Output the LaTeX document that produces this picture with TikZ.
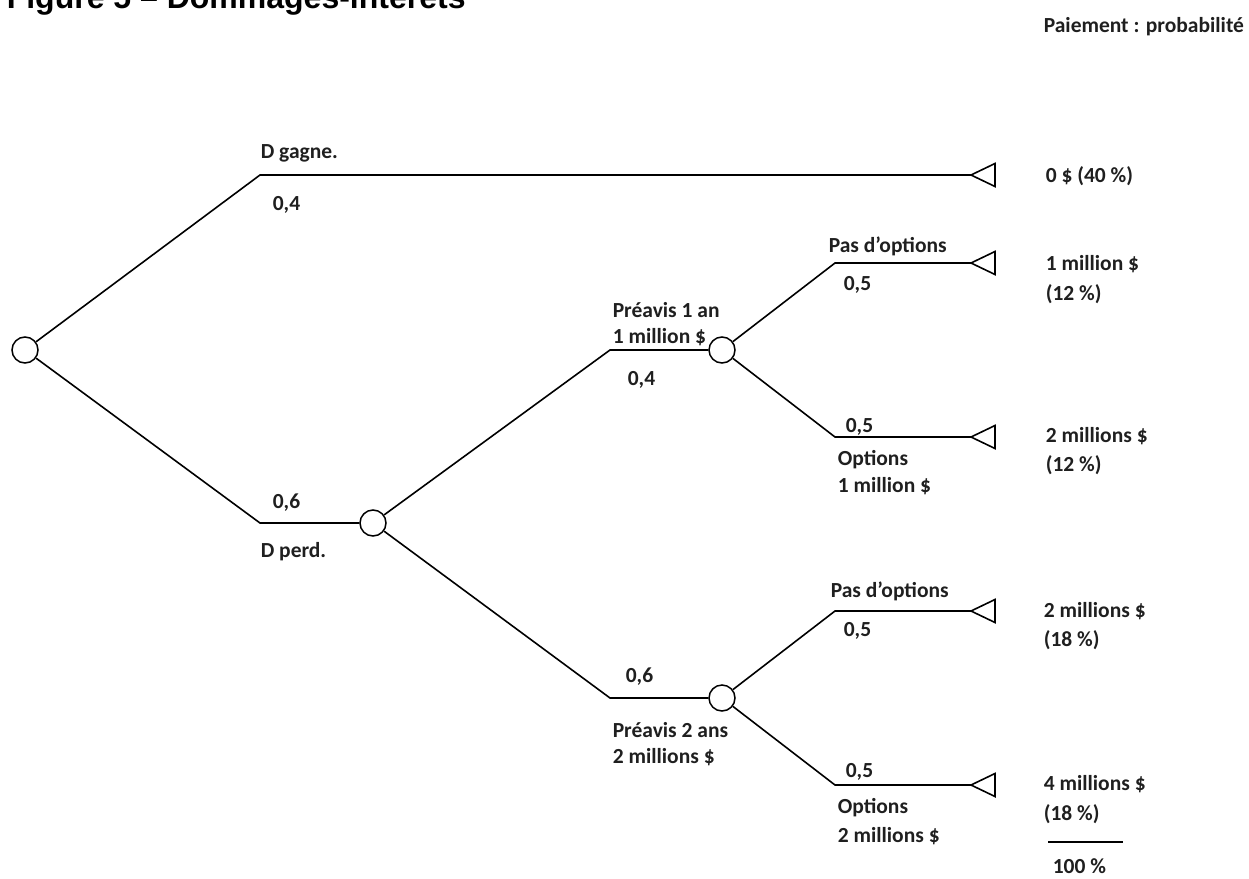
\documentclass[tikz,border=0pt]{standalone}
\usepackage{fontspec}
\setmainfont{Carlito}
\newfontfamily\titlefont{Liberation Sans}
\begin{document}
\begin{tikzpicture}[x=1pt,y=-1pt, line width=1.6pt,
  chance/.style={draw, circle, minimum size=26pt, inner sep=0pt, fill=white, line width=1.5pt},
  lbl/.style={anchor=base west, inner sep=0pt, font=\bfseries\fontsize{21.5}{26}\selectfont, text=black!88},
  branch/.style={draw, line width=1.6pt},
  term/.style={draw, line width=1.6pt, line join=miter}]
\useasboundingbox (0,0) rectangle (1249,878);

% title (partly cut off at the top, as in the reference)
\node[anchor=base west, inner sep=0pt, font=\titlefont\bfseries\fontsize{32}{38}\selectfont] (title) at (6,8.5) {Figure 5 – Dommages-intérêts};
\node[lbl] (hdr) at (1043,32) {Paiement : probabilité};

% chance nodes and corners
\node[chance] (n0) at (25,350) {};
\coordinate (a1) at (260,175);
\coordinate (e1) at (971,175);
\coordinate (a2) at (260,523);
\node[chance] (n1) at (373,523) {};
\coordinate (b1) at (610,350);
\node[chance] (n2) at (722,350) {};
\coordinate (b2) at (610,698);
\node[chance] (n3) at (722,698) {};
\coordinate (c1) at (835,263); \coordinate (e2) at (971,263);
\coordinate (c2) at (835,437); \coordinate (e3) at (971,437);
\coordinate (c3) at (835,611); \coordinate (e4) at (971,611);
\coordinate (c4) at (835,785); \coordinate (e5) at (971,785);

% branches
\draw[branch] (n0) -- (a1) -- (e1);
\draw[branch] (n0) -- (a2) -- (n1);
\draw[branch] (n1) -- (b1) -- (n2);
\draw[branch] (n1) -- (b2) -- (n3);
\draw[branch] (n2) -- (c1) -- (e2);
\draw[branch] (n2) -- (c2) -- (e3);
\draw[branch] (n3) -- (c3) -- (e4);
\draw[branch] (n3) -- (c4) -- (e5);

% terminal triangles
\foreach \e in {e1,e2,e3,e4,e5}
  \draw[term] (\e) -- ++(24,-11.5) -- ++(0,23) -- cycle;

% branch labels
\node[lbl] (l1) at (260,158) {D gagne.};
\node[lbl] (l2) at (272,210) {0,4};
\node[lbl] (l3) at (272,508) {0,6};
\node[lbl] (l4) at (260,557) {D perd.};

\node[lbl] (l5) at (612,317) {Préavis 1 an};
\node[lbl] (l6) at (612,343) {1 million \$};
\node[lbl] (l7) at (627,385) {0,4};

\node[lbl] (l8) at (625,682) {0,6};
\node[lbl] (l9) at (612,737) {Préavis 2 ans};
\node[lbl] (l10) at (612,763) {2 millions \$};

\node[lbl] (l11) at (828,252) {Pas d’options};
\node[lbl] (l12) at (843,290) {0,5};
\node[lbl] (l13) at (845,432) {0,5};
\node[lbl] (l14) at (837,465) {Options};
\node[lbl] (l15) at (837,492) {1 million \$};

\node[lbl] (l16) at (830,597) {Pas d’options};
\node[lbl] (l17) at (843,636) {0,5};
\node[lbl] (l18) at (845,777) {0,5};
\node[lbl] (l19) at (837,813) {Options};
\node[lbl] (l20) at (837,842) {2 millions \$};

% payoffs
\node[lbl] (p1) at (1045,182) {0 \$ (40 \%)};
\node[lbl] (p2) at (1045,270) {1 million \$};
\node[lbl] (p2b) at (1045,300) {(12 \%)};
\node[lbl] (p3) at (1045,442) {2 millions \$};
\node[lbl] (p3b) at (1045,471) {(12 \%)};
\node[lbl] (p4) at (1043,617) {2 millions \$};
\node[lbl] (p4b) at (1043,646) {(18 \%)};
\node[lbl] (p5) at (1043,790) {4 millions \$};
\node[lbl] (p5b) at (1043,820) {(18 \%)};
\coordinate (s1) at (1048,842);
\coordinate (s2) at (1123,842);
\draw[line width=1.5pt] (s1) -- (s2);
\node[lbl] (tot) at (1052,873) {100 \%};
\end{tikzpicture}
\end{document}
